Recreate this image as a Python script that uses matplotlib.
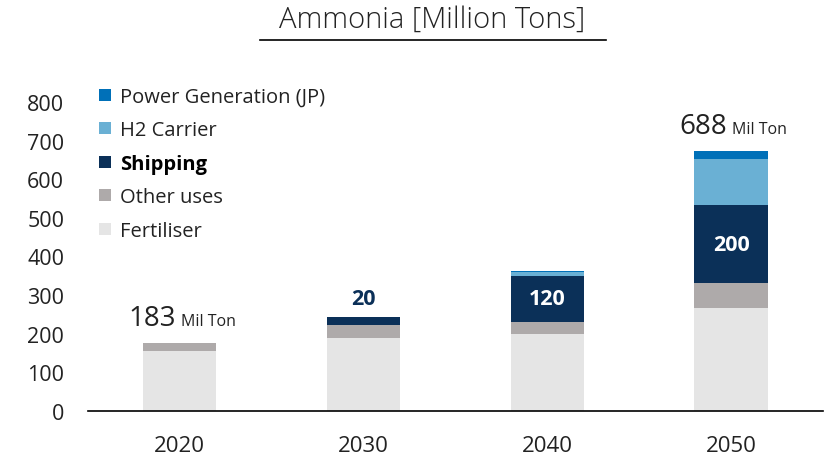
import matplotlib
matplotlib.use('Agg')
import matplotlib.pyplot as plt
import numpy as np
from matplotlib.lines import Line2D

plt.rcParams['font.family'] = ['Open Sans', 'DejaVu Sans']

years = ['2020', '2030', '2040', '2050']
fertiliser = [155, 189, 199, 267]
other_uses = [20, 34, 31, 65]
shipping = [0, 20, 120, 200]
h2_carrier = [0, 0, 10, 121]
power_gen = [0, 0, 3, 20]
total_labels = {0: '183', 3: '688'}
ship_labels = ['', '20', '120', '200']

c_fert = '#e5e5e5'
c_other = '#aeaaaa'
c_ship = '#0b3058'
c_h2 = '#6ab0d4'
c_power = '#0070b8'

fig = plt.figure(figsize=(8.28, 4.6), dpi=100)
ax = fig.add_axes([0.106, 0.1043, 0.888, 0.672])

x = np.arange(len(years))
w = 0.40
series = [
    ('Fertiliser', fertiliser, c_fert),
    ('Other uses', other_uses, c_other),
    ('Shipping', shipping, c_ship),
    ('H2 Carrier', h2_carrier, c_h2),
    ('Power Generation (JP)', power_gen, c_power),
]
bottom = np.zeros(len(years))
for name, vals, col in series:
    ax.bar(x, vals, w, bottom=bottom, color=col, label=name)
    bottom = bottom + np.array(vals)
totals = bottom

# labels on shipping segments
ship_bottom = np.array(fertiliser) + np.array(other_uses)
for i, lab in enumerate(ship_labels):
    if not lab:
        continue
    if shipping[i] < 60:
        ax.text(x[i], ship_bottom[i] + shipping[i] + 34, lab, ha='center', va='baseline',
                fontsize=15.5, fontweight='bold', color=c_ship)
    else:
        ax.text(x[i], ship_bottom[i] + shipping[i] / 2, lab, ha='center', va='center',
                fontsize=15.5, fontweight='bold', color='white')

# total labels
for i, lab in total_labels.items():
    ax.annotate(lab, (x[i], totals[i] + 47), xytext=(-4, 0), textcoords='offset pixels',
                ha='right', va='baseline', fontsize=20, color='#222222')
    ax.annotate('Mil Ton', (x[i], totals[i] + 47), xytext=(1, 0), textcoords='offset pixels',
                ha='left', va='baseline', fontsize=11.5, color='#222222')

ax.set_xlim(-0.5, 3.5)
ax.set_ylim(0, 800)
ax.set_yticks(range(0, 801, 100))
ax.set_xticks(x)
ax.set_xticklabels(years)
ax.tick_params(axis='both', length=0, colors='#222222')
ax.tick_params(axis='y', pad=17, labelsize=15.5)
ax.tick_params(axis='x', pad=17, labelsize=16)
for s in ['top', 'right', 'left']:
    ax.spines[s].set_visible(False)
ax.spines['bottom'].set_color('black')
ax.spines['bottom'].set_linewidth(1.2)

handles, labels = ax.get_legend_handles_labels()
leg = ax.legend(handles[::-1], labels[::-1], loc='upper left', bbox_to_anchor=(0.005, 1.075),
                frameon=False, fontsize=14.5, handlelength=0.55, handleheight=0.55,
                handletextpad=0.45, labelspacing=0.67, borderaxespad=0)
for t in leg.get_texts():
    t.set_color('#222222')
    if t.get_text() == 'Shipping':
        t.set_fontweight('bold')
        t.set_color('black')

fig.text(0.522, 0.957, 'Ammonia [Million Tons]', ha='center', va='center', fontsize=21,
         color='#222222', fontweight='light')
fig.add_artist(Line2D([260 / 828, 606 / 828], [1 - 41 / 460, 1 - 41 / 460], color='black', lw=1.2))

fig.savefig('out.png', dpi=100)
